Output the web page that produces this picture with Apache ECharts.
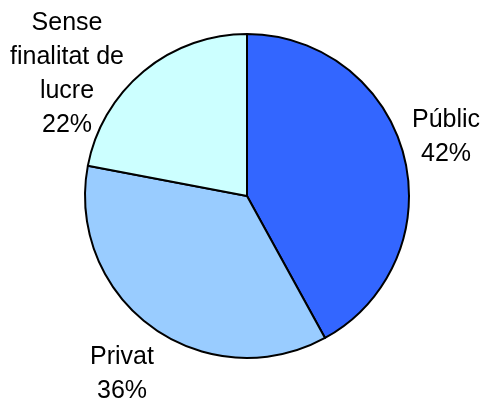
<!DOCTYPE html>
<html>
<head>
<meta charset="utf-8">
<script src="https://cdn.jsdelivr.net/npm/echarts@6/dist/echarts.min.js"></script>
<style>
html, body { margin: 0; padding: 0; background: #fff; }
#chart { width: 483px; height: 403px; }
</style>
</head>
<body>
<div id="chart"></div>
<script>
// sectors, clockwise from 12 o'clock
const categories = ['Públic', 'Privat', 'Sense\nfinalitat de\nlucre']
const values = [42, 36, 22]
const colors = ['#3366FF', '#99CCFF', '#CCFFFF']

// where each label block sits (centre of the text block)
const labelPos = [
	[446, 137],
	[122, 374],
	[67, 74],
]

const myChart = echarts.init(document.getElementById('chart'))

const option = {
	animation: false,
	backgroundColor: '#fff',
	series: [
		{
			type: 'pie',
			center: [247, 196],
			radius: 162,
			startAngle: 90,
			clockwise: true,
			avoidLabelOverlap: false,
			data: categories.map((name, i) => ({
				name: name,
				value: values[i],
				itemStyle: { color: colors[i] },
			})),
			itemStyle: {
				borderColor: '#000',
				borderWidth: 2,
			},
			label: {
				show: true,
				position: 'outside',
				formatter: '{b}\n{d}%',
				fontFamily: 'Liberation Sans, Arial, sans-serif',
				fontSize: 25,
				lineHeight: 34,
				color: '#000',
				align: 'center',
				overflow: 'none',
			},
			labelLine: { show: false },
			labelLayout: function (params) {
				const p = labelPos[params.dataIndex]
				return { x: p[0], y: p[1], align: 'center', verticalAlign: 'middle' }
			},
			emphasis: { disabled: true },
		},
	],
}

myChart.setOption(option)
</script>
</body>
</html>
